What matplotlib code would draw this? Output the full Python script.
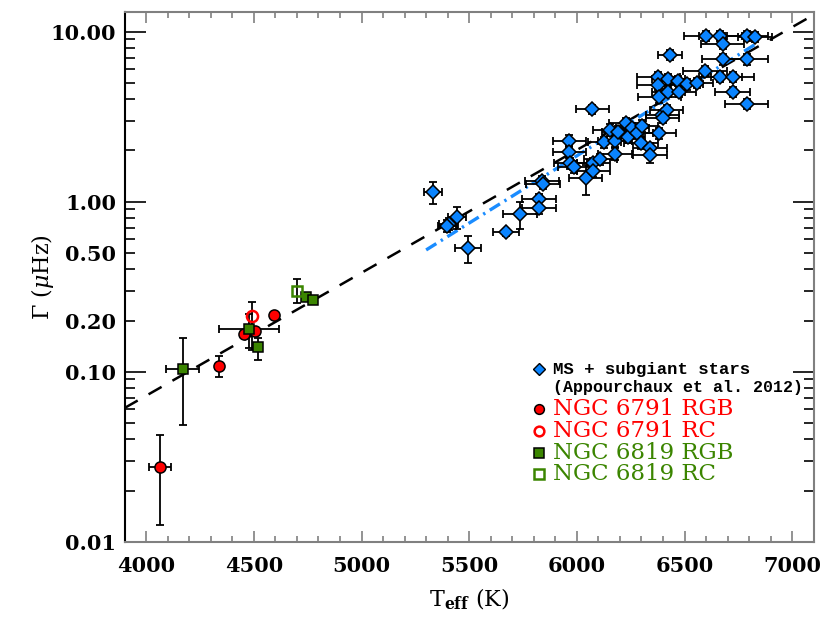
import numpy as np
import matplotlib
matplotlib.use("Agg")
import matplotlib.pyplot as plt
from matplotlib.ticker import FixedLocator

plt.rcParams['mathtext.fontset'] = 'dejavuserif'

# MS + subgiant stars (Appourchaux et al. 2012)
ms_teff = [5332, 5443, 5404, 5397, 5494, 5672, 5737, 5825, 5825, 5837,
           5842, 6041, 5964, 5964, 5969, 5989, 6077, 6108, 6077, 6072,
           6128, 6154, 6177, 6177, 6193, 6227, 6239, 6258, 6278, 6301,
           6298, 6340, 6340, 6382, 6378, 6378, 6383, 6397, 6417, 6399,
           6425, 6425, 6433, 6471, 6476, 6510, 6556, 6595, 6598, 6665,
           6677, 6680, 6665, 6723, 6723, 6788, 6788, 6788, 6827]
ms_gamma = [1.136, 0.810, 0.739, 0.720, 0.532, 0.661, 0.847, 1.033, 0.922, 1.329,
            1.271, 1.373, 2.285, 1.969, 1.682, 1.607, 1.682, 1.776, 1.515, 3.495,
            2.236, 2.641, 2.285, 1.908, 2.581, 2.892, 2.412, 2.702, 2.526, 2.788,
            2.224, 2.062, 1.883, 2.526, 5.437, 4.860, 4.113, 3.236, 3.463, 3.120,
            5.248, 4.437, 7.323, 5.129, 4.437, 4.906, 5.012, 5.872, 9.47, 9.47,
            8.465, 6.88, 5.437, 5.437, 4.437, 3.755, 6.88, 9.47, 9.35]
ms_teff_err = [40, 40, 45, 40, 60, 60, 80, 80, 80, 80,
               80, 77, 77, 77, 77, 77, 77, 77, 77, 77,
               77, 77, 77, 77, 77, 77, 77, 77, 77, 77,
               77, 77, 77, 77, 100, 100, 100, 77, 77, 77,
               77, 77, 56, 77, 77, 77, 77, 100, 100, 100,
               100, 100, 100, 100, 80, 100, 100, 100, 80]
ms_gamma_relerr = [0.15, 0.15, 0.08, 0.08, 0.18, 0.05, 0.18, 0.08, 0.08, 0.06,
                   0.06, 0.20, 0.08, 0.08, 0.08, 0.08, 0.08, 0.08, 0.08, 0.06,
                   0.08, 0.08, 0.08, 0.08, 0.08, 0.08, 0.08, 0.08, 0.08, 0.08,
                   0.08, 0.08, 0.10, 0.08, 0.07, 0.07, 0.07, 0.07, 0.07, 0.07,
                   0.07, 0.07, 0.07, 0.07, 0.07, 0.07, 0.07, 0.07, 0.07, 0.07,
                   0.07, 0.07, 0.07, 0.07, 0.07, 0.07, 0.07, 0.07, 0.07]

# NGC 6791 red giants
n6791_rgb_teff = [4063, 4337, 4456, 4507, 4592]
n6791_rgb_gamma = [0.0276, 0.108, 0.167, 0.174, 0.216]
n6791_rgb_teff_err = [52, 0, 0, 0, 0]
n6791_rgb_gamma_lo = [0.0151, 0.0145, 0.0, 0.0, 0.0]
n6791_rgb_gamma_hi = [0.0149, 0.015, 0.0, 0.0, 0.0]

n6791_rc_teff = [4492]
n6791_rc_gamma = [0.213]
n6791_rc_gamma_lo = [0.079]
n6791_rc_gamma_hi = [0.043]

# NGC 6819 red giants
n6819_rgb_teff = [4170, 4479, 4518, 4744, 4773]
n6819_rgb_gamma = [0.1037, 0.178, 0.139, 0.276, 0.264]
n6819_rgb_teff_err = [77, 139, 0, 0, 0]
n6819_rgb_gamma_lo = [0.055, 0.04, 0.022, 0.0, 0.0]
n6819_rgb_gamma_hi = [0.055, 0.04, 0.019, 0.0, 0.0]

n6819_rc_teff = [4700]
n6819_rc_gamma = [0.299]
n6819_rc_gamma_lo = [0.046]
n6819_rc_gamma_hi = [0.053]

# exponential fit Gamma = G0 * exp((Teff - 5777)/T0)
fit_g0 = 1.39
fit_t0 = 601.0
# other scaling relation (blue dash-dot), end points
rel_teff = [5300, 6840]
rel_gamma = [0.52, 8.6]

blue = '#0a84ff'
red = '#ff0000'
green = '#3b8500'

fig = plt.figure(figsize=(8.3, 6.23), dpi=100)
ax = fig.add_axes([0.1502, 0.1305, 0.8302, 0.8498])

tt = np.linspace(3900, 7100, 200)
ax.plot(tt, fit_g0 * np.exp((tt - 5777) / fit_t0), color='black', lw=1.8,
        dashes=(6, 5), zorder=2)
ax.plot(rel_teff, rel_gamma, color='#1a8cff', lw=2.4,
        dashes=(3.6, 1.6, 0.7, 1.6), zorder=2)

ms_gamma = np.array(ms_gamma)
ms_yerr = ms_gamma * np.array(ms_gamma_relerr)
eb = dict(fmt='none', ecolor='black', elinewidth=1.3, capsize=3, capthick=1.3, zorder=3)
ax.errorbar(ms_teff, ms_gamma, xerr=ms_teff_err, yerr=ms_yerr, **eb)
ax.plot(ms_teff, ms_gamma, 'D', ms=7.5, mfc=blue, mec='black', mew=1.1, ls='none', zorder=4)

ax.errorbar(n6791_rgb_teff, n6791_rgb_gamma, xerr=n6791_rgb_teff_err,
            yerr=[n6791_rgb_gamma_lo, n6791_rgb_gamma_hi], **eb)
ax.errorbar(n6791_rc_teff, n6791_rc_gamma,
            yerr=[n6791_rc_gamma_lo, n6791_rc_gamma_hi], **eb)
ax.errorbar(n6819_rgb_teff, n6819_rgb_gamma, xerr=n6819_rgb_teff_err,
            yerr=[n6819_rgb_gamma_lo, n6819_rgb_gamma_hi], **eb)
ax.errorbar(n6819_rc_teff, n6819_rc_gamma,
            yerr=[n6819_rc_gamma_lo, n6819_rc_gamma_hi], **eb)

ax.plot(n6791_rgb_teff, n6791_rgb_gamma, 'o', ms=8, mfc=red, mec='black', mew=1.1, ls='none', zorder=4)
ax.plot(n6791_rc_teff, n6791_rc_gamma, 'o', ms=8, mfc='none', mec=red, mew=1.8, ls='none', zorder=4)
ax.plot(n6819_rgb_teff, n6819_rgb_gamma, 's', ms=7.5, mfc=green, mec='black', mew=1.1, ls='none', zorder=4)
ax.plot(n6819_rc_teff, n6819_rc_gamma, 's', ms=7.5, mfc='none', mec=green, mew=1.8, ls='none', zorder=4)

ax.set_xlim(3900, 7100)
ax.set_yscale('log')
ax.set_ylim(0.01, 13.0)

ax.set_xticks(np.arange(4000, 7001, 500))
ax.set_xticks(np.arange(3900, 7101, 100), minor=True)
ax.yaxis.set_major_locator(FixedLocator([0.01, 0.1, 1, 10]))
ax.yaxis.set_minor_locator(FixedLocator(
    [m * 10.0 ** e for e in (-2, -1, 0, 1) for m in range(2, 10) if m * 10.0 ** e < 13]))
ax.yaxis.set_major_formatter(plt.FuncFormatter(lambda v, p: '%.2f' % v))
ax.yaxis.set_minor_formatter(plt.FuncFormatter(
    lambda v, p: '%.2f' % v if round(v, 3) in (0.2, 0.5) else ''))

for lab in ax.get_xticklabels() + ax.get_yticklabels() + ax.get_yticklabels(minor=True):
    lab.set_fontfamily('DejaVu Serif')
    lab.set_fontweight('bold')
    lab.set_fontsize(15)

ax.tick_params(axis='x', which='both', direction='in', top=True, bottom=True,
               color='#808080', width=1.2, pad=10)
ax.tick_params(axis='x', which='major', length=8)
ax.tick_params(axis='x', which='minor', length=4)
ax.tick_params(axis='y', which='both', direction='in', left=True, right=True,
               color='black', width=1.2, pad=6)
ax.tick_params(axis='y', which='major', length=15)
ax.tick_params(axis='y', which='minor', length=7)

for side in ['top', 'right', 'bottom']:
    ax.spines[side].set_color('#808080')
    ax.spines[side].set_linewidth(1.5)
ax.spines['left'].set_color('black')
ax.spines['left'].set_linewidth(1.5)

ax.set_xlabel(r'T$_{\mathbf{eff}}$ (K)', fontfamily='DejaVu Serif', fontsize=16, labelpad=8)
ax.set_ylabel(r'$\Gamma$ ($\mu$Hz)', fontfamily='DejaVu Serif', fontsize=16, labelpad=-4)

# legend
mx, tx = 0.601, 0.6216
ax.plot([mx], [0.326], 'D', ms=6, mfc=blue, mec='black', mew=1.0, transform=ax.transAxes, clip_on=False)
ax.text(tx, 0.326, 'MS + subgiant stars', transform=ax.transAxes, va='center',
        fontfamily='Liberation Mono', fontweight='bold', fontsize=12.5)
ax.text(tx, 0.292, '(Appourchaux et al. 2012)', transform=ax.transAxes, va='center',
        fontfamily='Liberation Mono', fontweight='bold', fontsize=12)
entries = [('o', red, 'black', 'NGC 6791 RGB', 0.2507),
           ('o', 'none', red, 'NGC 6791 RC', 0.2091),
           ('s', green, 'black', 'NGC 6819 RGB', 0.1675),
           ('s', 'none', green, 'NGC 6819 RC', 0.1278)]
for mk, fc, ec, label, yy in entries:
    tc = red if '6791' in label else green
    ax.plot([mx], [yy], mk, ms=7 if mk == 'o' else 6.5, mfc=fc, mec=ec,
            mew=1.1 if fc != 'none' else 1.8, transform=ax.transAxes, clip_on=False)
    ax.text(tx, yy, label, transform=ax.transAxes, va='center', color=tc,
            fontfamily='DejaVu Serif', fontsize=16.5)

fig.savefig('out.png', dpi=100)
